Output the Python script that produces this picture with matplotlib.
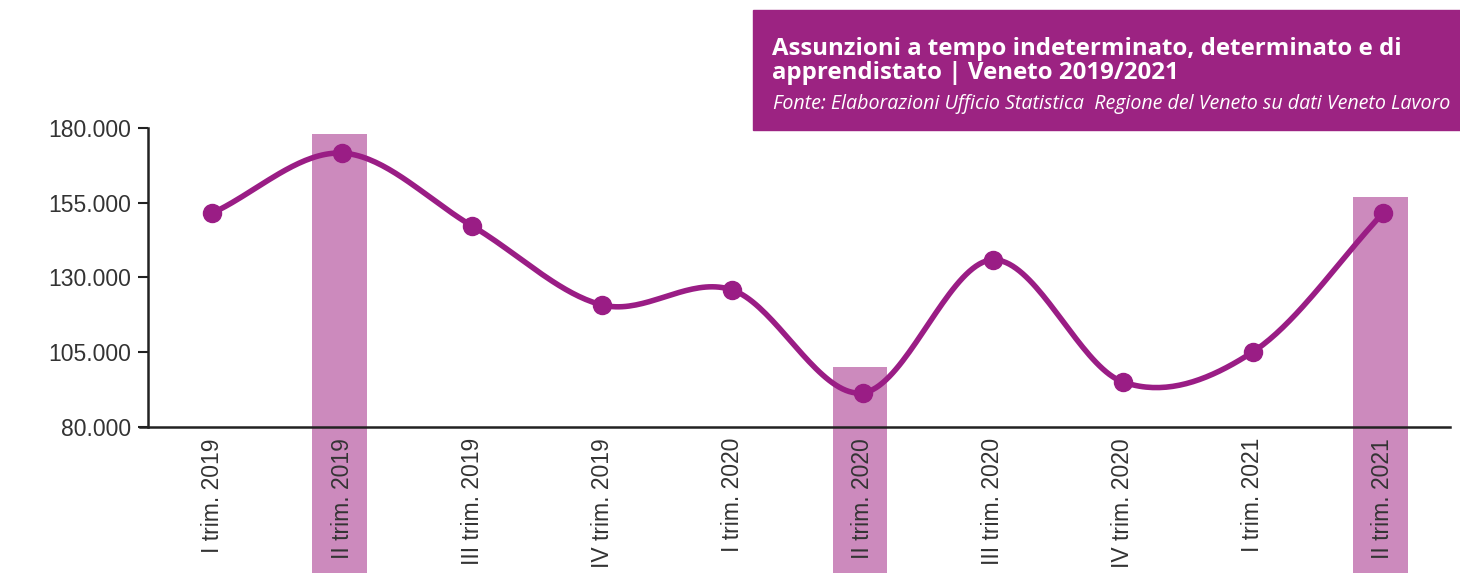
import numpy as np
import matplotlib.pyplot as plt
from matplotlib.patches import Rectangle

# quarters and hiring values
quarters = ['I trim. 2019', 'II trim. 2019', 'III trim. 2019', 'IV trim. 2019',
            'I trim. 2020', 'II trim. 2020', 'III trim. 2020', 'IV trim. 2020',
            'I trim. 2021', 'II trim. 2021']
hires = [151500, 171600, 147200, 120800, 125800, 91400, 135900, 95100, 105100, 151500]

# highlighted quarters (background bars)
bar_idx = [1, 5, 9]
bar_top = [178000, 100100, 156900]
bar_bottom = 31000

yticks = [80000, 105000, 130000, 155000, 180000]
ytick_labels = ['80.000', '105.000', '130.000', '155.000', '180.000']

title = 'Assunzioni a tempo indeterminato, determinato e di\napprendistato | Veneto 2019/2021'
source = 'Fonte: Elaborazioni Ufficio Statistica  Regione del Veneto su dati Veneto Lavoro'

line_col = '#9a1d85'
bar_col = '#cc8abd'
box_col = '#9c2382'
text_col = '#333333'


def catmull_rom(x, y, n=40):
    x = np.asarray(x, float)
    y = np.asarray(y, float)
    m = np.zeros_like(y)
    m[1:-1] = (y[2:] - y[:-2]) / (x[2:] - x[:-2])
    m[0] = y[1] - y[0]
    m[-1] = y[-1] - y[-2]
    xs, ys = [], []
    for i in range(len(x) - 1):
        t = np.linspace(0, 1, n)
        h = x[i + 1] - x[i]
        h00 = 2 * t**3 - 3 * t**2 + 1
        h10 = t**3 - 2 * t**2 + t
        h01 = -2 * t**3 + 3 * t**2
        h11 = t**3 - t**2
        xs.append(x[i] + t * h)
        ys.append(h00 * y[i] + h10 * h * m[i] + h01 * y[i + 1] + h11 * h * m[i + 1])
    return np.concatenate(xs), np.concatenate(ys)


plt.rcParams['font.family'] = ['Liberation Sans', 'DejaVu Sans']

fig = plt.figure(figsize=(14.6, 5.76), dpi=100)
ax = fig.add_axes([0.1014, 0.2587, 0.8918, 0.5191])

x = np.arange(len(quarters))
for i, top in zip(bar_idx, bar_top):
    ax.bar(x[i] - 0.02, top - bar_bottom, bottom=bar_bottom, width=0.42,
           color=bar_col, clip_on=False, zorder=1)

xs, ys = catmull_rom(x, hires)
ax.plot(xs, ys, color=line_col, lw=4, zorder=3, solid_capstyle='round')
ax.plot(x, hires, 'o', color=line_col, ms=13, zorder=4)

ax.set_xlim(-0.492, 9.516)
ax.set_ylim(80000, 180000)
ax.set_yticks(yticks)
ax.set_yticklabels(ytick_labels, fontsize=16.5, color=text_col)
ax.set_xticks(x)
ax.set_xticklabels(quarters, rotation=90, fontsize=16.5, color=text_col)
ax.tick_params(axis='x', length=0, pad=8)
ax.tick_params(axis='y', length=7, width=1.5, color='#222222', pad=5)

for s in ['top', 'right']:
    ax.spines[s].set_visible(False)
ax.spines['left'].set_linewidth(1.8)
ax.spines['left'].set_color('#222222')
ax.spines['bottom'].set_linewidth(1.8)
ax.spines['bottom'].set_color('#222222')
ax.spines['bottom'].set_bounds(-0.555, 9.516)
ax.spines['left'].set_zorder(5)
ax.spines['bottom'].set_zorder(5)

# title box
fig.patches.append(Rectangle((753 / 1460, 1 - 130 / 576), 707 / 1460, 120 / 576,
                             transform=fig.transFigure, color=box_col, zorder=0))
fig.text(772 / 1460, 1 - 79 / 576, title, color='white', fontsize=17.3,
         fontweight='bold', family=['Open Sans', 'DejaVu Sans'],
         linespacing=0.98, va='baseline')
fig.text(773 / 1460, 1 - 109 / 576, source, color='white', fontsize=14.1,
         style='italic', family=['Open Sans', 'DejaVu Sans'], va='baseline')

fig.savefig('out.png', dpi=100)
